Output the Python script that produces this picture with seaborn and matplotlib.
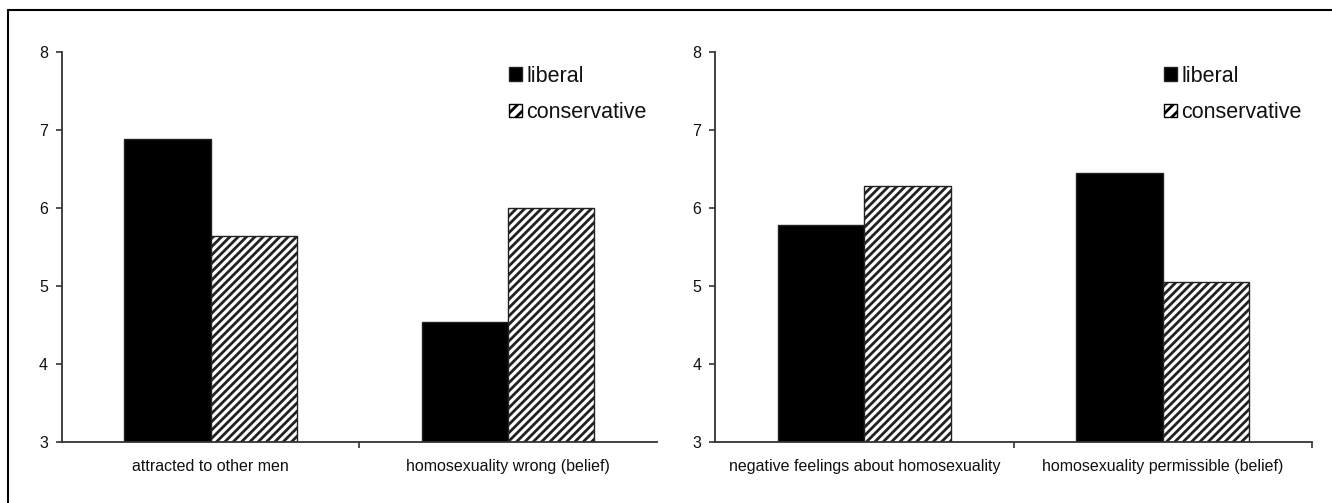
import pandas as pd
import seaborn as sns
import matplotlib
matplotlib.use("Agg")
import matplotlib.pyplot as plt
from matplotlib.lines import Line2D
from matplotlib.patches import Patch

# -----------------------------
# DATA
# -----------------------------
groups = ["liberal", "conservative"]

left_categories = ["attracted to other men", "homosexuality wrong (belief)"]
left_liberal = [6.88, 4.54]
left_conservative = [5.64, 6.00]

right_categories = ["negative feelings about homosexuality",
                    "homosexuality permissible (belief)"]
right_liberal = [5.78, 6.45]
right_conservative = [6.28, 5.05]

y_ticks = [3, 4, 5, 6, 7, 8]


def long_table(categories, liberal, conservative):
    rows = []
    for cat, lib, con in zip(categories, liberal, conservative):
        rows.append({"category": cat, "group": "liberal", "value": lib})
        rows.append({"category": cat, "group": "conservative", "value": con})
    return pd.DataFrame(rows)


# -----------------------------
# STYLE
# -----------------------------
sns.set_style("white")
plt.rcParams["font.family"] = ["Liberation Sans", "DejaVu Sans"]
plt.rcParams["hatch.linewidth"] = 2.0
plt.rcParams["hatch.color"] = "black"

fig = plt.figure(figsize=(13.32, 5.03), dpi=100)
ax_left = fig.add_axes([0.0465, 0.1213, 0.4467, 0.7753])
ax_right = fig.add_axes([0.5368, 0.1213, 0.4482, 0.7753])

panels = [
    (ax_left, long_table(left_categories, left_liberal, left_conservative), [0.5]),
    (ax_right, long_table(right_categories, right_liberal, right_conservative), [0.5, 1.5]),
]

for ax, df, sep_ticks in panels:
    sns.barplot(data=df, x="category", y="value", hue="group", hue_order=groups,
                palette=["black", "white"], width=0.58, gap=0,
                edgecolor="#222222", linewidth=1.0, ax=ax, legend=False)
    for bar in ax.containers[1]:
        bar.set_hatch("////")

    ax.set_ylim(3, 8)
    ax.set_xlim(-0.5, 1.5)
    ax.set_yticks(y_ticks)
    ax.set_xlabel("")
    ax.set_ylabel("")

    sns.despine(ax=ax)
    for side in ["left", "bottom"]:
        ax.spines[side].set_color("#333333")
        ax.spines[side].set_linewidth(1.3)

    ax.tick_params(axis="y", direction="out", length=4, width=1.2,
                   color="#333333", labelsize=11.5, labelcolor="#111111",
                   pad=6, left=True)
    ax.tick_params(axis="x", which="major", length=0, labelsize=11.5,
                   labelcolor="#111111", pad=12)
    ax.set_xticks(sep_ticks, minor=True)
    ax.tick_params(axis="x", which="minor", direction="out", length=4,
                   width=1.2, color="#333333", bottom=True)

    handles = [Patch(facecolor="black", edgecolor="#222222", label="liberal"),
               Patch(facecolor="white", edgecolor="black", hatch="///",
                     label="conservative")]
    ax.legend(handles=handles, loc="upper left", bbox_to_anchor=(0.752, 0.965),
              frameon=False, fontsize=15.5, handlelength=0.6, handleheight=0.6,
              handletextpad=0.2, labelspacing=0.72, borderpad=0, borderaxespad=0,
              labelcolor="#111111")

# outer frame (top and left edges only visible)
fig.add_artist(Line2D([0.006, 1.0], [0.980, 0.980], transform=fig.transFigure,
                      color="black", linewidth=1.5))
fig.add_artist(Line2D([0.006, 0.006], [0.0, 0.980], transform=fig.transFigure,
                      color="black", linewidth=1.5))

fig.savefig("out.png", dpi=100)
